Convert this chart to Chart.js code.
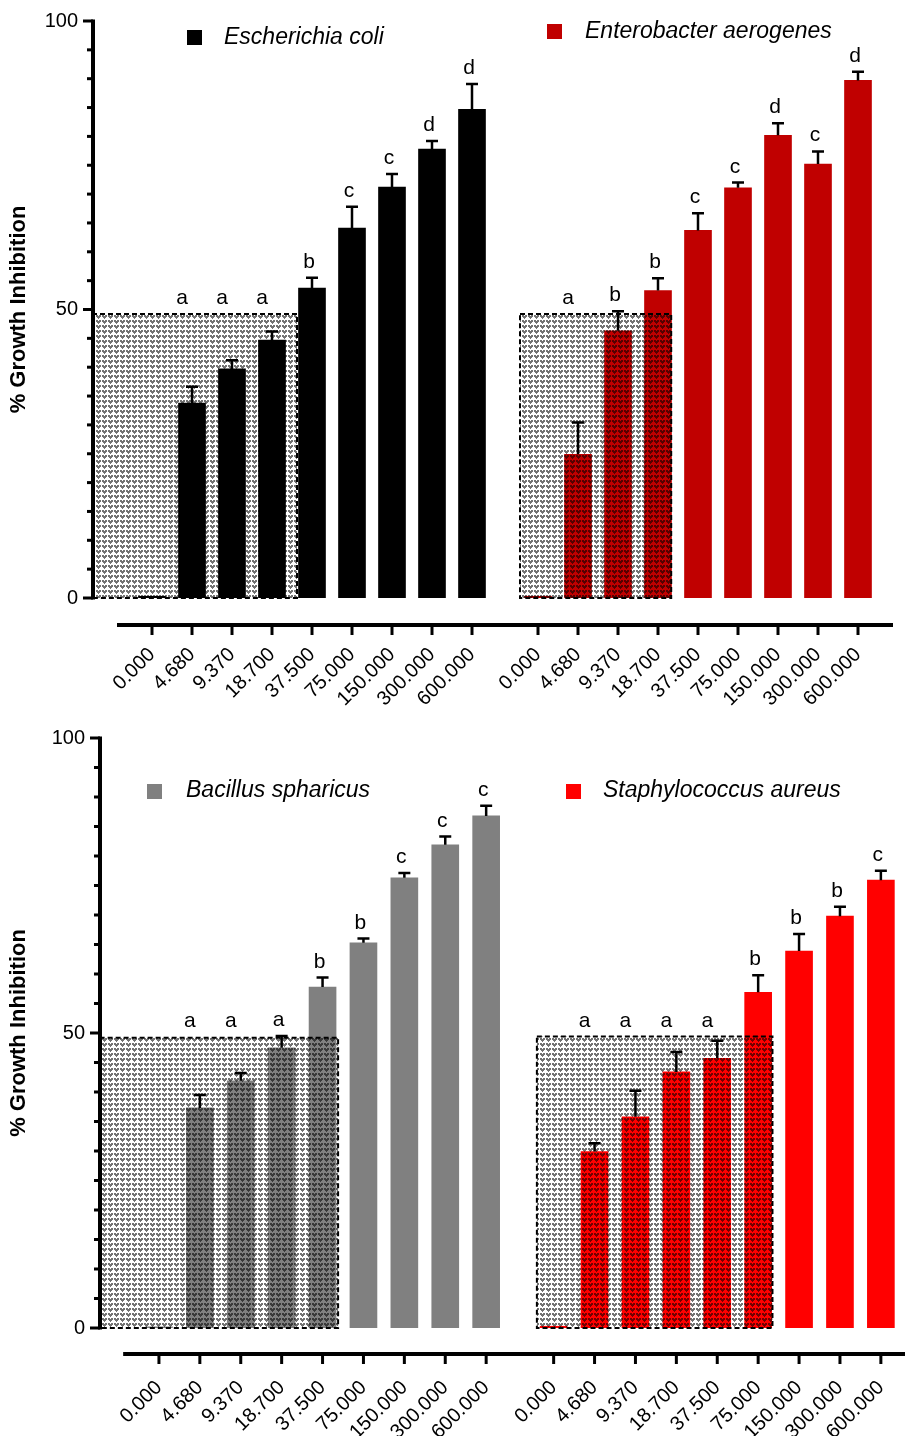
<!DOCTYPE html>
<html>
<head>
<meta charset="utf-8">
<script src="https://cdn.jsdelivr.net/npm/chart.js@4.4.0/dist/chart.umd.min.js"></script>
<style>
  html, body { margin: 0; padding: 0; background: #fff; }
  .panel { position: absolute; left: 0; width: 905px; height: 718px; }
  #top { top: 0; }
  #bottom { top: 718px; }
</style>
</head>
<body>
<div class="panel" id="top"><canvas id="chartTop" width="905" height="718"></canvas></div>
<div class="panel" id="bottom"><canvas id="chartBottom" width="905" height="718"></canvas></div>
<script>
const concentrations = ['0.000', '4.680', '9.370', '18.700', '37.500', '75.000', '150.000', '300.000', '600.000'];
const yTickValues = [0, 50, 100];

// % growth inhibition, mean and SD (upper bar only)
const ecoliValues = [0.3, 33.8, 39.7, 44.7, 53.7, 64.1, 71.2, 77.8, 84.7];
const ecoliErrors = [0, 2.8, 1.5, 1.5, 1.8, 3.7, 2.3, 1.4, 4.4];
const ecoliLetters = ['', 'a', 'a', 'a', 'b', 'c', 'c', 'd', 'd'];

const enteroValues = [0.3, 24.9, 46.3, 53.3, 63.7, 71.1, 80.2, 75.2, 89.7];
const enteroErrors = [0, 5.5, 3.4, 2.1, 3.0, 0.9, 2.1, 2.2, 1.5];
const enteroLetters = ['', 'a', 'b', 'b', 'c', 'c', 'd', 'c', 'd'];

const bacillusValues = [0.2, 37.3, 41.9, 47.5, 57.8, 65.3, 76.3, 81.9, 86.8];
const bacillusErrors = [0, 2.2, 1.3, 2.0, 1.6, 0.7, 0.8, 1.4, 1.7];
const bacillusLetters = ['', 'a', 'a', 'a', 'b', 'b', 'c', 'c', 'c'];

const staphValues = [0.3, 29.9, 35.8, 43.4, 45.7, 56.9, 63.9, 69.8, 75.9];
const staphErrors = [0, 1.4, 4.4, 3.4, 3.0, 2.9, 2.9, 1.6, 1.6];
const staphLetters = ['', 'a', 'a', 'a', 'a', 'b', 'b', 'b', 'c'];

const FONT = "'Liberation Sans', Arial, sans-serif";
const GROUP_GAP = 9.65; // second group starts here on the x axis

// the two groups sit on one linear x axis
const tickPositions = concentrations.map((c, i) => i)
  .concat(concentrations.map((c, i) => i + GROUP_GAP));
const tickLabels = concentrations.concat(concentrations);

function toPoints(values, offset) {
  return values.map((v, i) => ({ x: i + offset, y: v }));
}

// grey dotted fill used for the "below 50 %" boxes
const hatchTile = document.createElement('canvas');
hatchTile.width = 6;
hatchTile.height = 5;
(function () {
  const g = hatchTile.getContext('2d');
  g.fillStyle = 'rgba(0,0,0,0.55)';
  [[0,0],[1,0],[3,0],[4,0],[0,1],[1,1],[2,1],[3,1],[4,1],[1,2],[2,2],[3,2],[2,3]]
    .forEach(p => g.fillRect(p[0], p[1], 1, 1));
})();

const decorPlugin = {
  id: 'decor',
  afterDatasetsDraw(chart, args, opts) {
    const { ctx, scales: { x, y } } = chart;

    opts.boxes.forEach(b => {
      const l = x.getPixelForValue(b.from);
      const r = x.getPixelForValue(b.to);
      const t = y.getPixelForValue(b.top);
      const bt = y.getPixelForValue(0);
      ctx.save();
      ctx.fillStyle = ctx.createPattern(hatchTile, 'repeat');
      ctx.fillRect(l, t, r - l, bt - t);
      ctx.setLineDash([5, 3]);
      ctx.lineWidth = 2;
      ctx.strokeStyle = '#000';
      ctx.strokeRect(l, t, r - l, bt - t);
      ctx.restore();
    });

    chart.data.datasets.forEach((ds, di) => {
      const meta = chart.getDatasetMeta(di);
      meta.data.forEach((bar, i) => {
        const v = ds.data[i].y;
        const e = ds.errors[i];
        const yTop = y.getPixelForValue(v + e);
        ctx.save();
        ctx.strokeStyle = '#000';
        ctx.lineWidth = 2.5;
        if (e > 0) {
          ctx.beginPath();
          ctx.moveTo(bar.x, y.getPixelForValue(v));
          ctx.lineTo(bar.x, yTop);
          ctx.moveTo(bar.x - 6, yTop);
          ctx.lineTo(bar.x + 6, yTop);
          ctx.stroke();
        }
        if (ds.letters[i]) {
          // letters of bars under the box sit on the box edge, a bit to the left
          const onBox = v + e < opts.boxTop;
          const labelTop = onBox ? opts.boxTop : v + e;
          ctx.fillStyle = '#000';
          ctx.font = '21px ' + FONT;
          ctx.textAlign = 'center';
          ctx.textBaseline = 'alphabetic';
          ctx.fillText(ds.letters[i], bar.x - (onBox ? 10 : 3), y.getPixelForValue(labelTop) - 10);
        }
        ctx.restore();
      });
    });
  },
  afterDraw(chart, args, opts) {
    const { ctx, chartArea, scales: { x, y } } = chart;
    ctx.save();
    ctx.strokeStyle = '#000';

    // y axis with minor ticks every 5
    const ax = chartArea.left + 2;
    ctx.lineWidth = 4;
    ctx.beginPath();
    ctx.moveTo(ax, y.getPixelForValue(0) + 1.5);
    ctx.lineTo(ax, y.getPixelForValue(100) - 1.5);
    ctx.stroke();
    ctx.lineWidth = 3;
    for (let v = 0; v <= 100; v += 5) {
      const py = y.getPixelForValue(v);
      const len = yTickValues.includes(v) ? 10 : 6;
      ctx.beginPath();
      ctx.moveTo(ax - len, py);
      ctx.lineTo(ax, py);
      ctx.stroke();
    }

    // detached x axis line below the plot
    const xl = chartArea.bottom + opts.xAxisDrop;
    ctx.lineWidth = 4;
    ctx.beginPath();
    ctx.moveTo(x.getPixelForValue(-0.875), xl);
    ctx.lineTo(chartArea.right, xl);
    ctx.stroke();
    ctx.lineWidth = 3;
    tickPositions.forEach(p => {
      const px = x.getPixelForValue(p);
      ctx.beginPath();
      ctx.moveTo(px, xl);
      ctx.lineTo(px, xl + 10);
      ctx.stroke();
    });

    // legend entries
    chart.data.datasets.forEach((ds, di) => {
      const pos = opts.legend[di];
      ctx.fillStyle = ds.backgroundColor;
      ctx.fillRect(pos.boxX, pos.boxY, 15, 15);
      ctx.fillStyle = '#000';
      ctx.font = 'italic 23px ' + FONT;
      ctx.textAlign = 'left';
      ctx.textBaseline = 'middle';
      ctx.fillText(ds.label, pos.textX, pos.textY);
    });
    ctx.restore();
  }
};

function makeChart(id, cfg) {
  return new Chart(document.getElementById(id), {
    type: 'bar',
    data: {
      datasets: cfg.series.map(s => ({
        label: s.label,
        data: toPoints(s.values, s.offset),
        errors: s.errors,
        letters: s.letters,
        backgroundColor: s.color,
        borderWidth: 0,
        barThickness: 27,
        grouped: false
      }))
    },
    options: {
      responsive: false,
      animation: false,
      layout: { padding: { top: cfg.padTop, right: cfg.padRight, left: 0, bottom: 0 } },
      scales: {
        x: {
          type: 'linear',
          offset: false,
          min: cfg.xMin,
          max: cfg.xMax,
          grid: { display: false, drawTicks: false, offset: false },
          border: { display: false },
          afterBuildTicks: scale => { scale.ticks = tickPositions.map(v => ({ value: v })); },
          afterFit: scale => {
            scale.height = cfg.xHeight;
            scale.paddingLeft = 0;
            scale.paddingRight = 0;
          },
          ticks: {
            autoSkip: false,
            minRotation: 45,
            maxRotation: 45,
            padding: cfg.xLabelPad,
            color: '#000',
            font: { family: FONT, size: 20 },
            callback: (value, index) => tickLabels[index]
          }
        },
        y: {
          min: 0,
          max: 100,
          grid: { display: false, drawTicks: false },
          border: { display: false },
          afterBuildTicks: scale => { scale.ticks = yTickValues.map(v => ({ value: v })); },
          afterFit: scale => {
            scale.width = cfg.yWidth;
            scale.paddingTop = 0;
            scale.paddingBottom = 0;
          },
          ticks: {
            padding: 13,
            color: '#000',
            font: { family: FONT, size: 20 }
          },
          title: {
            display: true,
            text: '% Growth Inhibition',
            color: '#000',
            padding: { top: 6, bottom: 0 },
            font: { family: FONT, size: 22, weight: 'bold' }
          }
        }
      },
      plugins: {
        legend: { display: false },
        tooltip: { enabled: false },
        decor: {
          boxes: cfg.boxes,
          boxTop: 49.3,
          xAxisDrop: cfg.xAxisDrop,
          legend: cfg.legend
        }
      }
    },
    plugins: [decorPlugin]
  });
}

makeChart('chartTop', {
  padTop: 21, padRight: 12, yWidth: 91, xHeight: 120,
  xMin: -1.525, xMax: 18.525, xLabelPad: 45, xAxisDrop: 27,
  series: [
    { label: 'Escherichia coli', values: ecoliValues, errors: ecoliErrors, letters: ecoliLetters, color: '#000000', offset: 0 },
    { label: 'Enterobacter aerogenes', values: enteroValues, errors: enteroErrors, letters: enteroLetters, color: '#c00000', offset: GROUP_GAP }
  ],
  boxes: [
    { from: -1.5, to: 3.625, top: 49.2 },
    { from: GROUP_GAP - 0.45, to: GROUP_GAP + 3.33, top: 49.2 }
  ],
  legend: [
    { boxX: 187, boxY: 30, textX: 224, textY: 38 },
    { boxX: 547, boxY: 24, textX: 585, textY: 32 }
  ]
});

makeChart('chartBottom', {
  padTop: 20, padRight: 0, yWidth: 98, xHeight: 108,
  xMin: -1.49, xMax: 18.24, xLabelPad: 48, xAxisDrop: 26,
  series: [
    { label: 'Bacillus spharicus', values: bacillusValues, errors: bacillusErrors, letters: bacillusLetters, color: '#808080', offset: 0 },
    { label: 'Staphylococcus aureus', values: staphValues, errors: staphErrors, letters: staphLetters, color: '#ff0000', offset: GROUP_GAP }
  ],
  boxes: [
    { from: -1.45, to: 4.38, top: 49.2 },
    { from: GROUP_GAP - 0.41, to: GROUP_GAP + 5.35, top: 49.4 }
  ],
  legend: [
    { boxX: 147, boxY: 66, textX: 186, textY: 73 },
    { boxX: 566, boxY: 66, textX: 603, textY: 73 }
  ]
});
</script>
</body>
</html>
